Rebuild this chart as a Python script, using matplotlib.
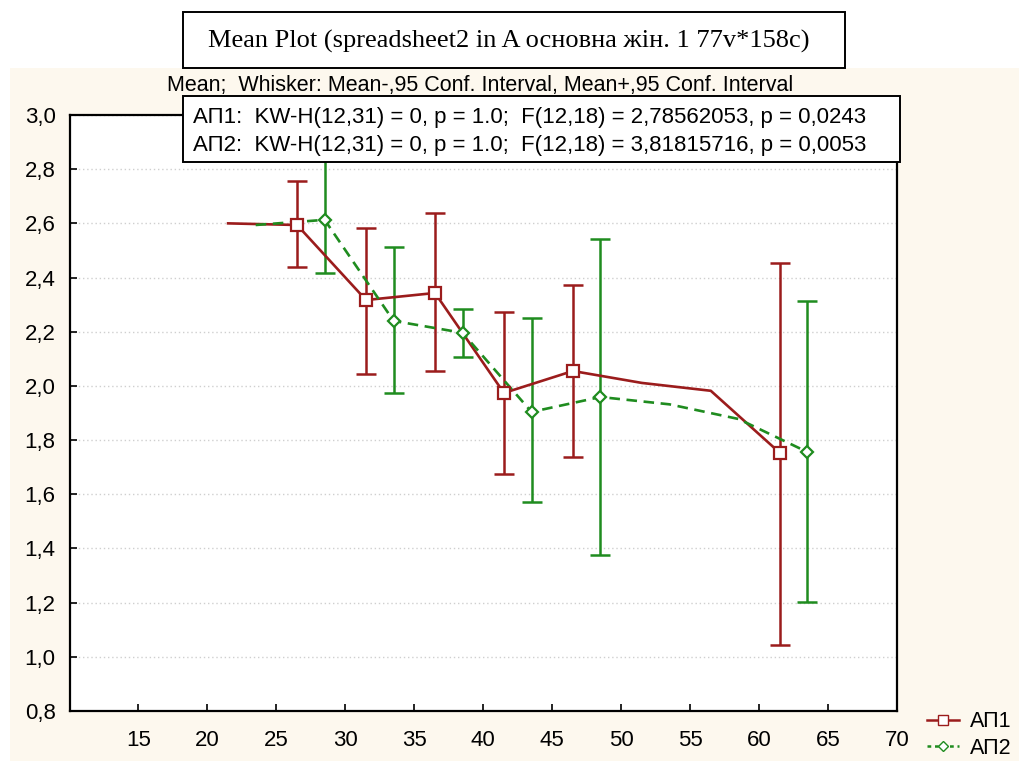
import numpy as np
import matplotlib
matplotlib.use('Agg')
import matplotlib.pyplot as plt
from matplotlib.patches import Rectangle
from matplotlib.lines import Line2D

# group means and 95% CI bounds (nan = no interval shown)
x1 = [21.5, 26.5, 31.5, 36.5, 41.5, 46.5, 51.5, 56.5, 61.5]
m1 = [2.600, 2.594, 2.317, 2.343, 1.974, 2.055, 2.011, 1.982, 1.753]
lo1 = [np.nan, 2.439, 2.044, 2.055, 1.675, 1.738, np.nan, np.nan, 1.044]
hi1 = [np.nan, 2.757, 2.583, 2.638, 2.273, 2.373, np.nan, np.nan, 2.454]

x2 = [23.5, 28.5, 33.5, 38.5, 43.5, 48.5, 53.5, 58.5, 63.5]
m2 = [2.594, 2.613, 2.240, 2.196, 1.904, 1.959, 1.932, 1.878, 1.756]
lo2 = [np.nan, 2.417, 1.974, 2.107, 1.572, 1.376, np.nan, np.nan, 1.203]
hi2 = [np.nan, 2.870, 2.513, 2.284, 2.251, 2.542, np.nan, np.nan, 2.314]

labels = ['АП1', 'АП2']
xticks = [15, 20, 25, 30, 35, 40, 45, 50, 55, 60, 65, 70]
yticks = [0.8, 1.0, 1.2, 1.4, 1.6, 1.8, 2.0, 2.2, 2.4, 2.6, 2.8, 3.0]

title = 'Mean Plot (spreadsheet2 in A основна жін. 1 77v*158c)'
subtitle = 'Mean;  Whisker: Mean-,95 Conf. Interval, Mean+,95 Conf. Interval'
stats = ['АП1:  KW-H(12,31) = 0, p = 1.0;  F(12,18) = 2,78562053, p = 0,0243',
         'АП2:  KW-H(12,31) = 0, p = 1.0;  F(12,18) = 3,81815716, p = 0,0053']

RED = '#9b1c1c'
GREEN = '#1f8c1f'
CREAM = '#fdf8ee'

plt.rcParams['font.family'] = ['Liberation Sans', 'DejaVu Sans']

W, H = 1019, 761
fig = plt.figure(figsize=(W / 100, H / 100), dpi=100, facecolor='white')

# cream panel under everything except the title strip
fig.patches.append(Rectangle((10 / W, 0), 1 - 10 / W, 1 - 68 / H,
                             transform=fig.transFigure, facecolor=CREAM,
                             edgecolor='none', zorder=0))

ax = fig.add_axes([69.5 / W, 1 - 711 / H, (897 - 69.5) / W, (711 - 115) / H])
ax.set_zorder(1)
ax.set_facecolor('white')


def draw(x, m, lo, hi, color, marker, ms, dashes=None):
    x = np.array(x); m = np.array(m); lo = np.array(lo); hi = np.array(hi)
    kw = dict(color=color, lw=1.9, zorder=3)
    if dashes:
        ax.plot(x, m, ls='--', dashes=dashes, **kw)
    else:
        ax.plot(x, m, **kw)
    ok = ~np.isnan(lo)
    ax.errorbar(x[ok], m[ok], yerr=[m[ok] - lo[ok], hi[ok] - m[ok]], fmt='none',
                ecolor=color, elinewidth=1.8, capsize=7.5, capthick=1.8, zorder=2)
    ax.plot(x[ok], m[ok], ls='none', marker=marker, ms=ms, mfc='white',
            mec=color, mew=1.6, zorder=4)


draw(x1, m1, lo1, hi1, RED, 's', 8.5)
draw(x2, m2, lo2, hi2, GREEN, 'D', 6.5, dashes=(4, 2.5))

ax.set_xlim(10, 70)
ax.set_ylim(0.8, 3.0)
ax.set_xticks(xticks)
ax.set_yticks(yticks)
ax.set_xticklabels([str(t) for t in xticks])
ax.set_yticklabels([f'{t:.1f}'.replace('.', ',') for t in yticks])
ax.tick_params(axis='both', direction='in', length=5, width=1.2, labelsize=16,
               colors='black')
ax.tick_params(axis='x', pad=14)
ax.tick_params(axis='y', pad=10)
ax.yaxis.grid(True, ls=(0, (1, 2)), color='#cfcfcf', lw=1)
ax.set_axisbelow(True)
for s in ax.spines.values():
    s.set_linewidth(1.6)

# title box
fig.patches.append(Rectangle((183 / W, 1 - 68 / H), (845 - 183) / W, 56 / H,
                             transform=fig.transFigure, facecolor='white',
                             edgecolor='black', lw=1.4, zorder=5))
fig.text(509 / W, 1 - 41 / H, title, ha='center', va='center', fontsize=19,
         family=['Liberation Serif', 'DejaVu Serif'], zorder=6)

fig.text(480 / W, 1 - 86 / H, subtitle, ha='center', va='center', fontsize=15.5,
         zorder=6)

# stats box over the plot
fig.patches.append(Rectangle((183 / W, 1 - 162 / H), (900 - 183) / W, 66 / H,
                             transform=fig.transFigure, facecolor='white',
                             edgecolor='black', lw=1.4, zorder=5))
for i, s in enumerate(stats):
    fig.text(193 / W, 1 - (117 + 29 * i) / H, s, ha='left', va='center',
             fontsize=16, zorder=6)

handles = [Line2D([], [], color=RED, lw=1.8, marker='s', ms=7, mfc='white', mec=RED),
           Line2D([], [], color=GREEN, lw=1.8, ls='--', dashes=(1.5, 1.5), marker='D',
                  ms=5, mfc='white', mec=GREEN)]
fig.legend(handles, labels, loc='center left', bbox_to_anchor=(916 / W, 1 - 735 / H),
           frameon=False, fontsize=15.5, handlelength=1.5, handletextpad=0.5,
           labelspacing=0.25, borderpad=0)

fig.savefig('out.png', dpi=100, facecolor=fig.get_facecolor())
